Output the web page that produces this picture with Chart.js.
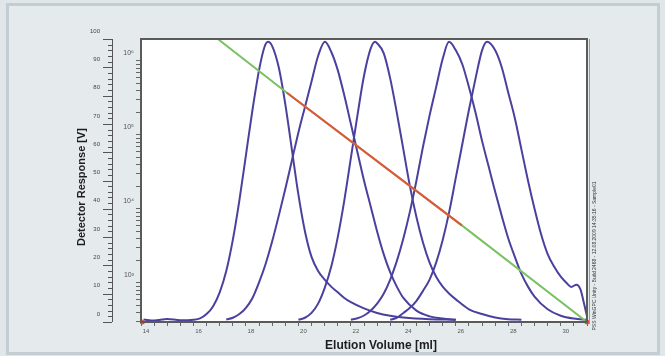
<!DOCTYPE html>
<html>
<head>
<meta charset="utf-8">
<script src="https://cdn.jsdelivr.net/npm/chart.js@4.4.1/dist/chart.umd.min.js"></script>
<style>
    html, body { margin: 0; padding: 0; background: #e1e6e8; }
    #wrap { position: relative; width: 665px; height: 356px; overflow: hidden; }
    #frame { position: absolute; left: 6px; top: 3px; width: 648px; height: 346px; border: 3px solid #c2ced3; background: #e5eaec; }
    canvas { position: absolute; left: 0; top: 0; }
</style>
</head>
<body>
<div id="wrap">
    <div id="frame"></div>
    <canvas id="gpcChart" width="665" height="356"></canvas>
</div>
<script>
// elution volume [ml] and detector response (0-100)
const peak1Vol  = [14.1, 14.5, 15.0, 15.5, 16.0, 16.25, 16.5, 16.75, 17.0, 17.25, 17.5, 17.75, 18.0, 18.25, 18.5, 18.7, 18.84, 19.0, 19.25, 19.5, 19.75, 20.0, 20.25, 20.5, 20.75, 21.0, 21.25, 21.5, 21.75, 22.0, 22.5, 23.0, 23.5, 24.0, 25.0, 26.0];
const peak1Resp = [0.9, 0.5, 1.1, 0.6, 0.8, 1.3, 2.8, 5.6, 10.5, 18, 29, 43, 59, 75, 89, 97, 99, 97.5, 90, 77, 61, 45, 32, 23, 18, 15, 12.5, 10.5, 8.5, 7, 4.8, 3.2, 2.2, 1.6, 1.0, 0.8];

const peak2Vol  = [17.25, 17.5, 17.75, 18.0, 18.25, 18.5, 18.75, 19.0, 19.25, 19.5, 19.75, 20.0, 20.25, 20.5, 20.75, 21.01, 21.25, 21.5, 21.75, 22.0, 22.25, 22.5, 22.75, 23.0, 23.25, 23.5, 23.75, 24.0, 24.5, 25.0, 25.5, 26.0];
const peak2Resp = [0.9, 1.5, 2.8, 5, 8.5, 14, 20.5, 28.5, 37.5, 47, 57, 67, 76, 85, 94, 99, 95.5, 89, 80, 70, 60, 50, 41, 32, 24, 17.5, 12.5, 8.5, 4, 2, 1.2, 0.8];

const peak3Vol  = [20.0, 20.25, 20.5, 20.75, 21.0, 21.25, 21.5, 21.75, 22.0, 22.25, 22.5, 22.75, 22.92, 23.0, 23.25, 23.5, 23.75, 24.0, 24.25, 24.5, 24.75, 25.0, 25.25, 25.5, 25.75, 26.0, 26.5, 27.0, 27.5, 28.0, 28.5];
const peak3Resp = [0.8, 1.5, 3.2, 6.5, 12, 19.5, 30, 43, 58, 73, 87, 96.5, 99, 98.5, 95, 86, 74, 61, 48, 37, 28, 21, 16, 12.5, 10, 8, 4.5, 2.8, 1.6, 1.0, 0.8];

const peak4Vol  = [22.0, 22.25, 22.5, 22.75, 23.0, 23.25, 23.5, 23.75, 24.0, 24.25, 24.5, 24.75, 25.0, 25.25, 25.5, 25.74, 26.0, 26.25, 26.5, 26.75, 27.0, 27.25, 27.5, 27.75, 28.0, 28.25, 28.5, 28.75, 29.0, 29.5, 30.0, 30.5, 31.0];
const peak4Resp = [0.8, 1.3, 2.3, 4, 6.5, 10, 15, 21.5, 29.5, 39, 50, 62, 73, 83, 93, 99, 96, 91, 83, 74, 64, 55, 46, 37.5, 29.5, 23, 17, 12.5, 9, 4.5, 2.2, 1.2, 0.8];

const peak5Vol  = [23.5, 23.75, 24.0, 24.25, 24.5, 24.75, 25.0, 25.25, 25.5, 25.75, 26.0, 26.25, 26.5, 26.75, 27.0, 27.19, 27.5, 27.75, 28.0, 28.25, 28.5, 28.75, 29.0, 29.25, 29.5, 29.75, 30.0, 30.25, 30.4, 30.6, 30.75, 30.9, 31.0];
const peak5Resp = [0.8, 1.5, 3.2, 5, 7.5, 11, 15, 21, 29, 39, 51, 63, 75, 86, 96, 99, 96, 90, 81, 72, 61, 50, 40, 31, 24, 19.5, 16, 13.5, 12.4, 13.2, 11.5, 6, 2];

// calibration curve: elution volume vs. molar mass (log axis)
const calVol = [16.93, 19.56, 26.23, 31.0];
const calMass = [1980000, 372000, 6000, 297];
const fitRangeVol = [19.56, 26.23];
const fitRangeMass = [372000, 6000];

// integration limit markers
const limitVol = [14.05, 31.0];
const limitResp = [0, 0];

const xLabelVolumes = [14, 16, 18, 20, 22, 24, 26, 28, 30];
const logTickValues = [1000, 10000, 100000, 1000000];
const logTickLabels = ['10³', '10⁴', '10⁵', '10⁶'];
const respTickValues = [0, 10, 20, 30, 40, 50, 60, 70, 80, 90, 100];

const xTitle = 'Elution Volume [ml]';
const yTitle = 'Detector Response [V]';
const sideNote = 'PSS WinGPC Unity - Build 2468 - 12.08.2009 14:35:16 - Sample01';

const peakColor = '#4a419e';

function toPoints(xs, ys) {
    return xs.map((x, i) => ({ x: x, y: ys[i] }));
}

function peakSet(xs, ys) {
    return {
        data: toPoints(xs, ys),
        yAxisID: 'yr',
        borderColor: peakColor,
        borderWidth: 2,
        pointRadius: 0,
        cubicInterpolationMode: 'monotone',
        order: 3
    };
}

const framePlugin = {
    id: 'framePlugin',
    beforeDraw(chart) {
        const a = chart.chartArea;
        const ctx = chart.ctx;
        ctx.save();
        ctx.fillStyle = '#ffffff';
        ctx.fillRect(a.left, a.top, a.right - a.left, a.bottom - a.top);
        ctx.restore();
    },
    afterDraw(chart) {
        const a = chart.chartArea;
        const ctx = chart.ctx;
        const yr = chart.scales.yr;
        ctx.save();

        // plot box
        ctx.strokeStyle = '#5a5a5a';
        ctx.lineWidth = 2;
        ctx.strokeRect(a.left, a.top, a.right - a.left, a.bottom - a.top);
        ctx.strokeStyle = '#9a9a9a';
        ctx.lineWidth = 1;
        ctx.beginPath();
        ctx.moveTo(a.right + 2.5, a.top);
        ctx.lineTo(a.right + 2.5, a.bottom + 2);
        ctx.stroke();

        // outer response axis (0-100)
        const axX = 112;
        ctx.strokeStyle = '#555';
        ctx.lineWidth = 1;
        ctx.beginPath();
        ctx.moveTo(axX + 0.5, yr.getPixelForValue(0));
        ctx.lineTo(axX + 0.5, yr.getPixelForValue(100));
        for (let v = 0; v <= 100; v += 2) {
            const py = Math.round(yr.getPixelForValue(v)) + 0.5;
            const len = v % 10 === 0 ? 9 : 4;
            ctx.moveTo(axX, py);
            ctx.lineTo(axX - len, py);
        }
        ctx.stroke();
        ctx.fillStyle = '#444';
        ctx.font = '6px Arial';
        ctx.textAlign = 'right';
        ctx.textBaseline = 'middle';
        respTickValues.forEach(v => {
            ctx.fillText(String(v), 100, yr.getPixelForValue(v) - 8);
        });

        // titles
        ctx.fillStyle = '#1e1e1e';
        ctx.font = 'bold 12px Arial';
        ctx.textAlign = 'center';
        ctx.textBaseline = 'middle';
        ctx.fillText(xTitle, 381, 346);

        ctx.save();
        ctx.translate(82, 187);
        ctx.rotate(-Math.PI / 2);
        ctx.font = 'bold 11px Arial';
        ctx.fillText(yTitle, 0, 0);
        ctx.restore();

        ctx.save();
        ctx.translate(595, 256);
        ctx.rotate(-Math.PI / 2);
        ctx.font = '5px Arial';
        ctx.fillStyle = '#333';
        ctx.fillText(sideNote, 0, 0);
        ctx.restore();

        ctx.restore();
    }
};

const ctx = document.getElementById('gpcChart').getContext('2d');
new Chart(ctx, {
    type: 'line',
    data: {
        datasets: [
            {
                data: toPoints(limitVol, limitResp),
                yAxisID: 'yr',
                showLine: false,
                pointRadius: 2.5,
                pointBackgroundColor: '#e8503a',
                pointBorderWidth: 0,
                clip: false,
                order: 0
            },
            {
                data: toPoints(fitRangeVol, fitRangeMass),
                yAxisID: 'y',
                borderColor: '#e2553b',
                borderWidth: 2,
                pointRadius: 0,
                order: 1
            },
            {
                data: toPoints(calVol, calMass),
                yAxisID: 'y',
                borderColor: '#79c263',
                borderWidth: 2,
                pointRadius: 0,
                order: 2
            },
            peakSet(peak1Vol, peak1Resp),
            peakSet(peak2Vol, peak2Resp),
            peakSet(peak3Vol, peak3Resp),
            peakSet(peak4Vol, peak4Resp),
            peakSet(peak5Vol, peak5Resp)
        ]
    },
    options: {
        responsive: false,
        animation: false,
        layout: { padding: { left: 0, top: 39, right: 78, bottom: 0 } },
        plugins: {
            legend: { display: false },
            tooltip: { enabled: false }
        },
        scales: {
            x: {
                type: 'linear',
                position: 'bottom',
                min: 14,
                max: 31,
                afterFit: s => { s.height = 34; },
                afterBuildTicks: s => {
                    const t = [];
                    for (let v = 14; v <= 31; v += 0.5) t.push({ value: v });
                    s.ticks = t;
                },
                ticks: {
                    autoSkip: false,
                    maxRotation: 0,
                    padding: 2,
                    labelOffset: 5,
                    color: '#555',
                    font: { size: 6, family: 'Arial' },
                    callback: v => (xLabelVolumes.includes(v) ? String(v) : '')
                },
                grid: { drawOnChartArea: false, tickLength: 4, color: '#666' },
                border: { color: '#5a5a5a', width: 2 }
            },
            y: {
                type: 'logarithmic',
                position: 'left',
                min: 297,
                max: 1980000,
                afterFit: s => { s.width = 141; },
                afterBuildTicks: s => {
                    const t = [];
                    for (let e = 2; e <= 6; e++) {
                        for (let m = 1; m <= 9; m++) {
                            const v = m * Math.pow(10, e);
                            if (v >= s.min && v <= s.max) t.push({ value: v, major: m === 1 });
                        }
                    }
                    s.ticks = t;
                },
                ticks: {
                    autoSkip: false,
                    padding: 2,
                    labelOffset: -8,
                    color: '#555',
                    font: { size: 7, family: 'Arial' },
                    callback: v => {
                        const i = logTickValues.indexOf(v);
                        return i >= 0 ? logTickLabels[i] : '';
                    }
                },
                grid: { drawOnChartArea: false, tickLength: 5, color: '#666' },
                border: { color: '#5a5a5a', width: 2 }
            },
            yr: {
                type: 'linear',
                display: false,
                min: 0,
                max: 100
            }
        }
    },
    plugins: [framePlugin]
});
</script>
</body>
</html>
